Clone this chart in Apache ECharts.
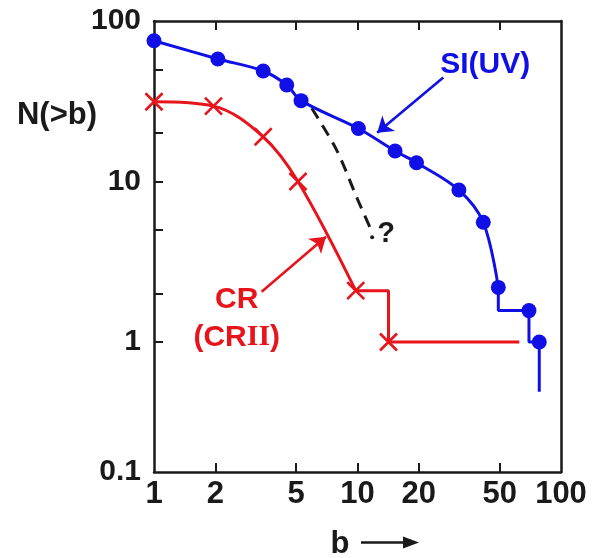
<!DOCTYPE html>
<html><head><meta charset="utf-8">
<script src="https://cdn.jsdelivr.net/npm/echarts@6/dist/echarts.min.js"></script>
<style>html,body{margin:0;padding:0;background:#fff}#c{width:599px;height:558px}</style>
</head><body><div id="c"></div>
<script>
// ---- axes ----
const xTickValues = [1, 2, 5, 10, 20, 50, 100];
const xTickLabels = ['1', '2', '5', '10', '20', '50', '100'];
const yTickValues = [0.155, 1, 10, 100];   // bottom of the drawn frame is labelled "0.1" in the original
const yTickLabels = ['0.1', '1', '10', '100'];
const yTickMarks = [1, 2, 5, 10, 20, 50];
const xTickMarks = [2, 5, 10, 20, 50];

// ---- SI(UV) ----
const siB = [1.0, 2.06, 3.44, 4.49, 5.28, 10.1, 15.3, 19.5, 31.5, 41.5, 49.2, 69.6, 78.2];
const siN = [75.4, 58.0, 48.8, 39.9, 31.9, 21.4, 15.5, 13.1, 8.85, 5.57, 2.19, 1.57, 1.0];
const siTailN = 0.49;

// ---- CR (CRII) ----
const crB = [1.0, 1.96, 3.44, 5.1, 9.8, 14.2];
const crN = [31.4, 29.5, 19.0, 10.0, 2.09, 1.0];
const crTailB = 62.4;

// ---- dashed extrapolation ----
const dashB = [5.96, 7.9, 9.9, 11.5];
const dashN = [28.6, 15.7, 8.0, 5.2];
const queryB = [11.8];
const queryN = [4.5];

// ---- annotations (data coordinates) ----
const siLabel = {b: 42.4, n: 53.2, text: 'SI(UV)'};
const crLabel = {b: 2.55, n: 1.40};
const siArrowB = [26.4, 12.5], siArrowN = [44.4, 20.1];
const crArrowB = [3.38, 7.0], crArrowN = [2.06, 4.53];

const BLUE = '#1010e6', RED = '#e8141c', INK = '#1a1a1a';
const FONT = '"Liberation Sans", Arial, sans-serif';

const pts = (xs, ys) => xs.map((x, i) => [x, ys[i]]);
const siPts = pts(siB, siN);
const crPts = pts(crB, crN);

function labelFor(values, labels) {
  return v => {
    for (let i = 0; i < values.length; i++) {
      if (Math.abs(Math.log10(v) - Math.log10(values[i])) < 0.01) return labels[i];
    }
    return '';
  };
}

const chart = echarts.init(document.getElementById('c'), null, {renderer: 'canvas'});
const axisLine = {show: true, lineStyle: {color: INK, width: 2.5}};
const tickStyle = {lineStyle: {color: INK, width: 2}};

chart.setOption({
  animation: false,
  backgroundColor: '#fff',
  grid: {left: 154, right: 38, top: 21, bottom: 86},
  xAxis: [{
    type: 'log', logBase: 10, min: 1, max: 100, position: 'bottom',
    axisLine: axisLine, splitLine: {show: false}, minorTick: {show: false},
    axisTick: Object.assign({show: true, inside: true, length: 9, customValues: xTickMarks}, tickStyle),
    axisLabel: {show: true, customValues: xTickValues, formatter: labelFor(xTickValues, xTickLabels),
      fontFamily: FONT, fontWeight: 'bold', fontSize: 31, color: INK, margin: 7,
      showMinLabel: true, showMaxLabel: true}
  }, {
    type: 'log', logBase: 10, min: 1, max: 100, position: 'top',
    axisLine: axisLine, splitLine: {show: false},
    axisTick: Object.assign({show: true, inside: true, length: 9, customValues: xTickMarks}, tickStyle),
    axisLabel: {show: false}
  }],
  yAxis: [{
    type: 'log', logBase: 10, min: yTickValues[0], max: 100, position: 'left',
    axisLine: axisLine, splitLine: {show: false}, minorTick: {show: false},
    axisTick: Object.assign({show: true, inside: true, length: 9, customValues: yTickMarks}, tickStyle),
    axisLabel: {show: true, customValues: yTickValues, formatter: labelFor(yTickValues, yTickLabels),
      fontFamily: FONT, fontWeight: 'bold', fontSize: 30, color: INK, margin: 13,
      showMinLabel: true, showMaxLabel: true}
  }, {
    type: 'log', logBase: 10, min: yTickValues[0], max: 100, position: 'right',
    axisLine: axisLine, splitLine: {show: false}, axisTick: {show: false}, axisLabel: {show: false}
  }],
  graphic: [
    {type: 'text', style: {x: 57, y: 115, text: 'N(>b)', align: 'center', verticalAlign: 'middle',
      font: 'bold 31px ' + FONT, fill: INK}},
    {type: 'text', style: {x: 340, y: 544, text: 'b', align: 'center', verticalAlign: 'middle',
      font: 'bold 31px ' + FONT, fill: INK}},
    {type: 'line', shape: {x1: 361, y1: 542.5, x2: 408, y2: 542.5}, style: {stroke: INK, lineWidth: 2.6}},
    {type: 'polygon', shape: {points: [[419, 542.5], [403, 536.5], [403, 548.5]]}, style: {fill: INK}}
  ],
  series: [
    {type: 'line', name: 'SI curve', data: siPts.slice(0, 11), smooth: 0.35, showSymbol: false,
      lineStyle: {color: BLUE, width: 3}, z: 3},
    {type: 'line', name: 'SI steps', data: siPts.slice(10).concat([[siB[siB.length - 1], siTailN]]),
      step: 'start', showSymbol: false, lineStyle: {color: BLUE, width: 3}, z: 3},
    {type: 'scatter', name: 'SI points', data: siPts, symbol: 'circle', symbolSize: 15,
      itemStyle: {color: BLUE, opacity: 1}, z: 5},
    {type: 'line', name: 'CR curve', data: crPts.slice(0, 5), smooth: 0.35, showSymbol: false,
      lineStyle: {color: RED, width: 3}, z: 3},
    {type: 'line', name: 'CR steps', data: crPts.slice(4).concat([[crTailB, crN[crN.length - 1]]]),
      step: 'end', showSymbol: false, lineStyle: {color: RED, width: 3}, z: 3},
    {type: 'scatter', name: 'CR points', data: crPts, symbol: 'path://M0,0L20,20M20,0L0,20', symbolSize: 17,
      itemStyle: {color: RED, borderColor: RED, borderWidth: 2.6, opacity: 1}, z: 5},
    {type: 'line', name: 'extrapolation', data: pts(dashB, dashN), smooth: 0.3, showSymbol: false,
      lineStyle: {color: INK, width: 3, type: [12, 8]}, z: 2},
    {type: 'scatter', name: 'query', data: pts(queryB, queryN), symbolSize: 4,
      itemStyle: {color: INK, opacity: 1},
      label: {show: true, position: 'right', distance: 3, formatter: '?', offset: [0, -3], opacity: 1,
        fontFamily: FONT, fontWeight: 'bold', fontSize: 29, color: INK}, z: 4},
    {type: 'lines', coordinateSystem: 'cartesian2d', polyline: false,
      symbol: ['none', 'arrow'], symbolSize: 15,
      data: [
        {coords: pts(siArrowB, siArrowN), lineStyle: {color: BLUE}},
        {coords: pts(crArrowB, crArrowN), lineStyle: {color: RED}}
      ],
      lineStyle: {width: 2.6, opacity: 1, curveness: 0}, z: 4},
    {type: 'scatter', name: 'SI label', data: [[siLabel.b, siLabel.n]], symbolSize: 0,
      itemStyle: {opacity: 1},
      label: {show: true, position: 'inside', formatter: siLabel.text, opacity: 1,
        fontFamily: FONT, fontWeight: 'bold', fontSize: 30, color: BLUE}, z: 6},
    {type: 'scatter', name: 'CR label', data: [[crLabel.b, crLabel.n]], symbolSize: 0,
      itemStyle: {opacity: 1},
      label: {show: true, position: 'inside', formatter: '{a|CR}\n{a|(CR}{s|II}{a|)}', opacity: 1,
        rich: {
          a: {fontFamily: FONT, fontWeight: 'bold', fontSize: 30, color: RED, lineHeight: 38},
          s: {fontFamily: '"Liberation Serif", "Times New Roman", serif', fontWeight: 'bold', fontSize: 30, color: RED, lineHeight: 38}
        }}, z: 6}
  ]
});
</script>
</body></html>
